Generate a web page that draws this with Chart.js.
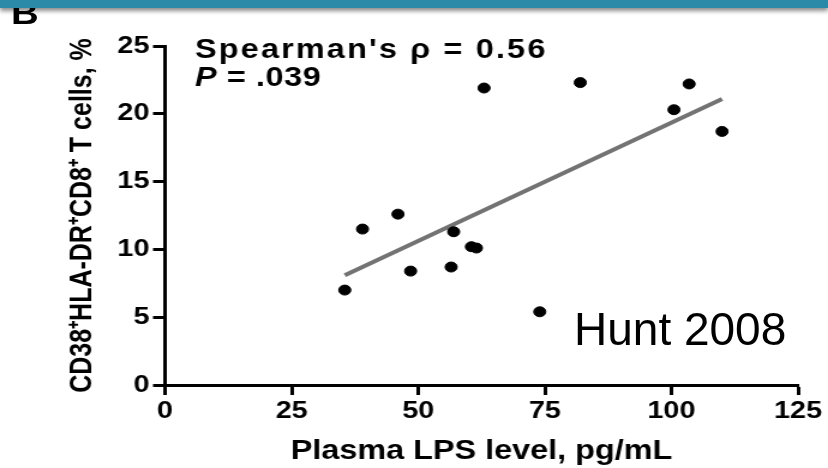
<!DOCTYPE html>
<html>
<head>
<meta charset="utf-8">
<script src="https://cdn.jsdelivr.net/npm/chart.js@4/dist/chart.umd.min.js"></script>
<style>
  html, body { margin: 0; padding: 0; background: #fff; }
  #page { position: relative; width: 828px; height: 468px; overflow: hidden; background: #fff; }
  /* the figure in the slide is stretched sideways, so draw it narrower and widen it */
  #plot { position: absolute; left: 0; top: 0; width: 690px; height: 468px; transform: scaleX(1.2); transform-origin: 0 0; }
  #banner { position: absolute; left: 0; top: 0; width: 828px; height: 8px; background: #2b8aa7; box-shadow: 0 3px 4px rgba(0,0,0,0.45); z-index: 3; }
  #panel { position: absolute; left: 11px; top: -3px; font: bold 32px "Liberation Sans", Arial, sans-serif; line-height: 32px; transform: scaleX(1.2); transform-origin: 0 0; z-index: 2; }
  #cite { position: absolute; left: 574px; top: 306px; font: 46px "Liberation Sans", Arial, sans-serif; line-height: 46px; color: #000; z-index: 2; }
</style>
</head>
<body>
<div id="page">
  <div id="banner"></div>
  <div id="panel">B</div>
  <div id="plot"><canvas id="lpsChart"></canvas></div>
  <div id="cite">Hunt 2008</div>
</div>
<script>
/******* Data: plasma LPS vs activated CD8 T cells ******/
var lpsLevel = [35.5, 39, 46, 48.5, 56.5, 57, 60.5, 61.5, 63, 74, 82, 100.5, 103.5, 110];
var cellPct  = [7.0, 11.5, 12.6, 8.4, 8.7, 11.3, 10.2, 10.1, 21.9, 5.4, 22.3, 20.3, 22.2, 18.7];

// fitted line end points
var fitX = [35.5, 110];
var fitY = [8.1, 21.1];

var xTicks = [0, 25, 50, 75, 100, 125];
var yTicks = [0, 5, 10, 15, 20, 25];

var statLine1 = "Spearman's \u03C1 = 0.56";
var statP = "P";
var statLine2 = " = .039";

var FONT = '"Liberation Sans", Arial, sans-serif';
Chart.defaults.font.family = FONT;
Chart.defaults.color = '#000';

var points = lpsLevel.map(function (x, i) { return { x: x, y: cellPct[i] }; });
var fit = fitX.map(function (x, i) { return { x: x, y: fitY[i] }; });

/***** stats text in the top left of the plot *****/
var statsText = {
  id: 'statsText',
  afterDraw: function (chart) {
    var ctx = chart.ctx;
    var a = chart.chartArea;
    var x = a.left + 25;
    ctx.save();
    ctx.fillStyle = '#000';
    ctx.textBaseline = 'alphabetic';
    ctx.font = 'bold 27px ' + FONT;
    ctx.letterSpacing = '1.8px';
    ctx.fillText(statLine1, x, a.top + 12);
    ctx.letterSpacing = '0.5px';
    ctx.font = 'italic bold 27px ' + FONT;
    ctx.fillText(statP, x, a.top + 40);
    var w = ctx.measureText(statP).width;
    ctx.font = 'bold 27px ' + FONT;
    ctx.fillText(statLine2, x + w, a.top + 40);
    ctx.restore();
  }
};

var ctx = document.getElementById('lpsChart');
var lpsChart = new Chart(ctx, {
  type: 'scatter',
  data: {
    datasets: [
      {
        data: points,
        backgroundColor: '#000',
        borderColor: '#000',
        pointRadius: 5,
        pointHoverRadius: 5,
        order: 1
      },
      {
        type: 'line',
        data: fit,
        showLine: true,
        borderColor: '#737373',
        borderWidth: 4,
        pointRadius: 0,
        fill: false,
        order: 2
      }
    ]
  },
  options: {
    responsive: true,
    maintainAspectRatio: false,
    animation: false,
    layout: { padding: { left: 0, top: 46, right: 25, bottom: 0 } },
    plugins: { legend: { display: false }, tooltip: { enabled: false } },
    scales: {
      x: {
        type: 'linear',
        min: 0,
        max: 125,
        afterBuildTicks: function (s) { s.ticks = xTicks.map(function (v) { return { value: v }; }); },
        afterFit: function (s) { s.height = 83; },
        ticks: { font: { size: 24, weight: 'bold' }, padding: 2, maxRotation: 0 },
        grid: { drawOnChartArea: false, drawTicks: true, tickLength: 10, tickWidth: 3, tickColor: '#000' },
        border: { display: true, color: '#000', width: 3 },
        title: { display: true, text: 'Plasma LPS level, pg/mL', font: { size: 27, weight: 'bold' }, padding: { top: 0, bottom: 0 } }
      },
      y: {
        type: 'linear',
        min: 0,
        max: 25,
        afterBuildTicks: function (s) { s.ticks = yTicks.map(function (v) { return { value: v }; }); },
        afterFit: function (s) { s.width = 137.5; },
        ticks: { font: { size: 24, weight: 'bold' }, padding: 3 },
        grid: { drawOnChartArea: false, drawTicks: true, tickLength: 10, tickWidth: 3, tickColor: '#000' },
        border: { display: true, color: '#000', width: 3 },
        title: { display: true, text: 'CD38\u207AHLA-DR\u207ACD8\u207A T cells, %', font: { size: 25, weight: 'bold' }, padding: { top: 54, bottom: 0 } }
      }
    }
  },
  plugins: [statsText]
});
</script>
</body>
</html>
